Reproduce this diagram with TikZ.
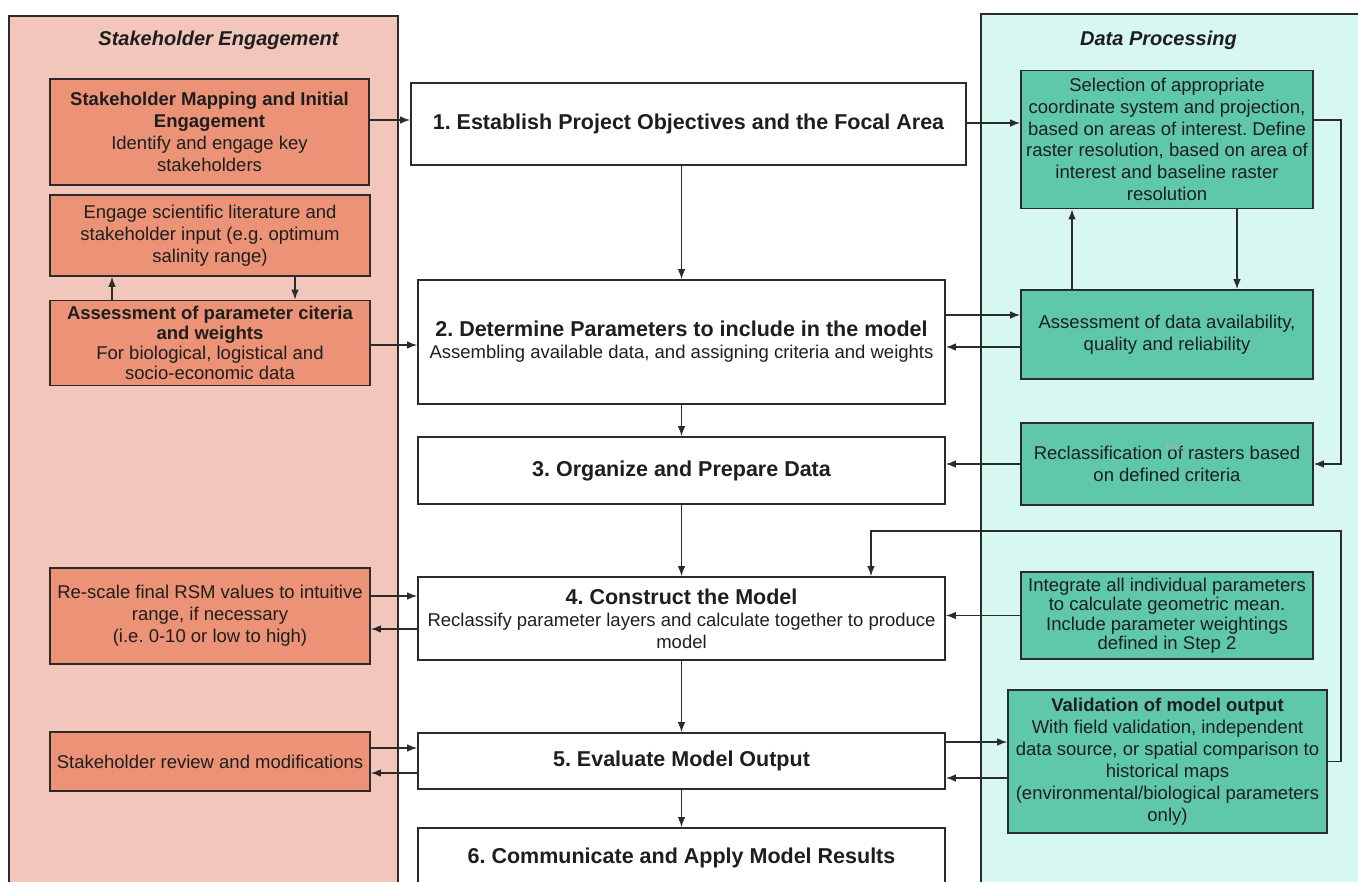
\documentclass[tikz,border=0pt]{standalone}
\usepackage{fontspec}
\setmainfont{Liberation Sans}
\usetikzlibrary{arrows.meta}
\definecolor{panelL}{HTML}{F2C6BA}
\definecolor{panelR}{HTML}{D6F8F0}
\definecolor{boxO}{HTML}{EC9276}
\definecolor{boxG}{HTML}{5EC8A8}
\definecolor{edge}{HTML}{2B2B2B}
\definecolor{ink}{HTML}{1E1E1E}
\frenchspacing
\begin{document}
\begin{tikzpicture}[x=1pt,y=-1pt,
  box/.style={draw=edge, line width=1.6pt, align=center, inner sep=0pt, text=ink,
    font=\fontsize{18.5}{22}\selectfont\frenchspacing},
  obox/.style={box, fill=boxO},
  gbox/.style={box, fill=boxG},
  sbox/.style={box, fill=white},
  panel/.style={draw=edge, line width=1.6pt, inner sep=0pt, anchor=north west},
  ptitle/.style={font=\fontsize{20}{24}\selectfont\bfseries\itshape, text=ink},
  ghost/.style={font=\fontsize{9}{10}\selectfont, text=black!30},
  arr/.style={draw=edge, line width=1.4pt, -{Latex[length=10pt,width=7.5pt]}}
]
\useasboundingbox (0,0) rectangle (1358,882);
\clip (0,0) rectangle (1358,882);

% panels
\node[panel, fill=panelL, minimum width=389pt, minimum height=890pt] (leftpanel) at (8,15) {};
\node[panel, fill=panelR, minimum width=420pt, minimum height=890pt] (rightpanel) at (980,13) {};
\node[ptitle] (lefttitle) at (218.5,40) {Stakeholder Engagement};
\node[ptitle] (righttitle) at (1158.5,40) {Data Processing};

% stakeholder boxes
\node[obox, minimum width=319pt, minimum height=106pt] (o1) at (209.5,132)
  {\textbf{Stakeholder Mapping and Initial}\\\textbf{Engagement}\\Identify and engage key\\stakeholders};
\node[obox, minimum width=320pt, minimum height=81pt] (o2) at (210,235.5)
  {Engage scientific literature and\\stakeholder input (e.g. optimum\\salinity range)};
\node[obox, minimum width=320pt, minimum height=85pt, font=\fontsize{18.5}{20}\selectfont\frenchspacing] (o3) at (210,343)
  {\textbf{Assessment of parameter citeria}\\\textbf{and weights}\\For biological, logistical and\\socio-economic data};
\node[obox, minimum width=320pt, minimum height=96pt] (o4) at (210,616)
  {Re-scale final RSM values to intuitive\\range, if necessary\\(i.e. 0-10 or low to high)};
\node[obox, minimum width=320pt, minimum height=59pt] (o5) at (210,761.5)
  {Stakeholder review and modifications};

% steps
\node[sbox, minimum width=555pt, minimum height=82pt] (s1) at (688.5,124)
  {{\bfseries\fontsize{21.5}{26}\selectfont 1. Establish Project Objectives and the Focal Area}};
\node[sbox, minimum width=527pt, minimum height=124pt] (s2) at (681.5,342)
  {{\bfseries\fontsize{21.5}{26}\selectfont 2. Determine Parameters to include in the model}\\Assembling available data, and assigning criteria and weights};
\node[sbox, minimum width=527pt, minimum height=67pt] (s3) at (681.5,470.5)
  {{\bfseries\fontsize{21.5}{26}\selectfont 3. Organize and Prepare Data}};
\node[sbox, minimum width=527pt, minimum height=83pt] (s4) at (681.5,618.5)
  {{\bfseries\fontsize{21.5}{26}\selectfont 4. Construct the Model}\\Reclassify parameter layers and calculate together to produce\\model};
\node[sbox, minimum width=527pt, minimum height=56pt] (s5) at (681.5,761)
  {{\bfseries\fontsize{21.5}{26}\selectfont 5. Evaluate Model Output}};
\node[sbox, minimum width=527pt, minimum height=60pt] (s6) at (681.5,858)
  {{\bfseries\fontsize{21.5}{26}\selectfont 6. Communicate and Apply Model Results}};

% data processing boxes
\node[gbox, minimum width=292pt, minimum height=138pt, font=\fontsize{18.5}{21.7}\selectfont\frenchspacing] (g1) at (1167,139.5)
  {Selection of appropriate\\coordinate system and projection,\\based on areas of interest. Define\\raster resolution, based on area of\\interest and baseline raster\\resolution};
\node[gbox, minimum width=292pt, minimum height=89pt] (g2) at (1167,334.5)
  {Assessment of data availability,\\quality and reliability};
\node[gbox, minimum width=292pt, minimum height=82pt] (g3) at (1167,464)
  {Reclassification of rasters based\\on defined criteria};
\node[ghost] (ghosttext) at (1173,447) {Text};
\node[gbox, minimum width=292pt, minimum height=87pt, font=\fontsize{18.5}{19.5}\selectfont\frenchspacing] (g4) at (1167,615.5)
  {Integrate all individual parameters\\to calculate geometric mean.\\Include parameter weightings\\defined in Step 2};
\node[gbox, minimum width=319pt, minimum height=143pt] (g5) at (1167.5,761.5)
  {\textbf{Validation of model output}\\With field validation, independent\\data source, or spatial comparison to\\historical maps\\(environmental/biological parameters\\only)};

\coordinate (busR) at (1341,300);
\coordinate (busT) at (1341,531);

% left connectors
\draw[arr] (o1.east |- 0,120) -- (s1.west |- 0,120);
\draw[arr] (o3.north -| 112,0) -- (o2.south -| 112,0);
\draw[arr] (o2.south -| 295,0) -- (o3.north -| 295,0);
\draw[arr] (o3.east |- 0,345) -- (s2.west |- 0,345);
\draw[arr] (o4.east |- 0,596) -- (s4.west |- 0,596);
\draw[arr] (s4.west |- 0,629) -- (o4.east |- 0,629);
\draw[arr] (o5.east |- 0,748) -- (s5.west |- 0,748);
\draw[arr] (s5.west |- 0,773) -- (o5.east |- 0,773);

% main chain
\draw[arr] (s1.south -| s2.north) -- (s2.north);
\draw[arr] (s2.south) -- (s3.north);
\draw[arr] (s3.south) -- (s4.north);
\draw[arr] (s4.south) -- (s5.north);
\draw[arr] (s5.south) -- (s6.north);

% right connectors
\draw[arr] (s1.east |- 0,123) -- (g1.west |- 0,123);
\draw[arr] (g1.east |- 0,120) -| (busR) |- (g3.east);
\draw[arr] (g2.north -| 1072,0) -- (g1.south -| 1072,0);
\draw[arr] (g1.south -| 1237,0) -- (g2.north -| 1237,0);
\draw[arr] (s2.east |- 0,315) -- (g2.west |- 0,315);
\draw[arr] (g2.west |- 0,347) -- (s2.east |- 0,347);
\draw[arr] (g3.west) -- (s3.east |- g3.west);
\draw[arr] (g4.west) -- (s4.east |- g4.west);
\draw[arr] (s5.east |- 0,742) -- (g5.west |- 0,742);
\draw[arr] (g5.west |- 0,778) -- (s5.east |- 0,778);
\draw[arr] (g5.east) -| (busT) -| (s4.north -| 871,0);
\end{tikzpicture}
\end{document}
